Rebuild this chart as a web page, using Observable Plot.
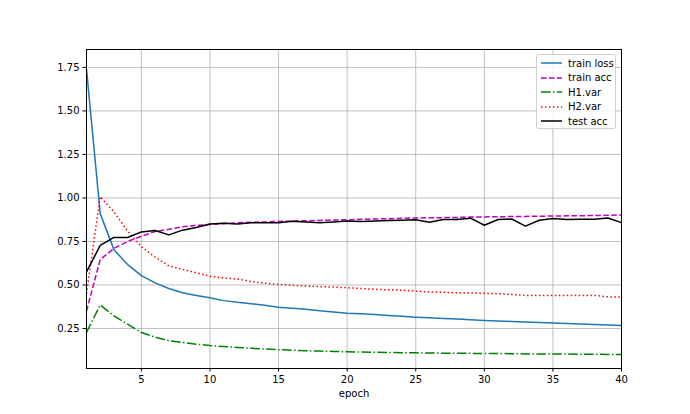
<!DOCTYPE html>
<html>
<head>
<meta charset="utf-8">
<script src="https://cdn.jsdelivr.net/npm/d3@7"></script>
<script src="https://cdn.jsdelivr.net/npm/@observablehq/plot@0.6"></script>
<style>
  html, body { margin: 0; padding: 0; background: #fff; }
  #wrap { position: relative; width: 690px; height: 414px; font-family: "DejaVu Sans", sans-serif; }
  #legend { position: absolute; left: 536px; top: 54px; width: 80px; height: 75px; box-sizing: border-box;
    border: 1px solid #d0d0d0; border-radius: 3px; background: rgba(255,255,255,0.8); font-size: 10px; color: #000; }
  .row { position: absolute; left: 0; height: 15px; display: flex; align-items: center; }
  .row svg { margin-left: 4px; }
  .row span { margin-left: 6px; white-space: nowrap; }
</style>
</head>
<body>
<div id="wrap"></div>
<script>
const epochs = [1,2,3,4,5,6,7,8,9,10,11,12,13,14,15,16,17,18,19,20,21,22,23,24,25,26,27,28,29,30,31,32,33,34,35,36,37,38,39,40];
const trainLoss = [1.74,0.91,0.703,0.617,0.554,0.512,0.48,0.455,0.44,0.426,0.41,0.40,0.392,0.383,0.372,0.366,0.36,0.352,0.345,0.338,0.334,0.33,0.325,0.32,0.315,0.311,0.308,0.304,0.30,0.296,0.293,0.29,0.287,0.284,0.281,0.278,0.275,0.273,0.27,0.267];
const trainAcc = [0.35,0.646,0.71,0.75,0.78,0.807,0.82,0.835,0.842,0.848,0.853,0.857,0.86,0.862,0.865,0.867,0.869,0.871,0.873,0.875,0.877,0.879,0.881,0.883,0.885,0.886,0.887,0.888,0.89,0.891,0.892,0.893,0.894,0.895,0.896,0.897,0.898,0.899,0.90,0.902];
const h1Var = [0.227,0.385,0.322,0.275,0.227,0.20,0.18,0.17,0.16,0.152,0.146,0.141,0.136,0.132,0.128,0.125,0.122,0.12,0.118,0.116,0.115,0.113,0.112,0.111,0.11,0.109,0.108,0.107,0.107,0.106,0.106,0.105,0.104,0.104,0.103,0.103,0.102,0.102,0.101,0.101];
const h2Var = [0.45,1.007,0.92,0.81,0.72,0.66,0.61,0.59,0.57,0.55,0.54,0.535,0.52,0.51,0.503,0.498,0.494,0.49,0.488,0.484,0.48,0.475,0.472,0.47,0.465,0.46,0.458,0.455,0.454,0.452,0.45,0.445,0.44,0.44,0.44,0.44,0.44,0.44,0.432,0.43];
const testAcc = [0.575,0.727,0.773,0.773,0.805,0.813,0.788,0.815,0.83,0.85,0.855,0.85,0.858,0.857,0.858,0.866,0.862,0.858,0.862,0.867,0.865,0.868,0.87,0.872,0.875,0.861,0.876,0.876,0.884,0.843,0.876,0.879,0.838,0.872,0.882,0.876,0.877,0.877,0.885,0.858];

const xTicks = [5,10,15,20,25,30,35,40];
const yTicks = [0.25,0.50,0.75,1.00,1.25,1.50,1.75];

const seriesDefs = [
  {name: "train loss", values: trainLoss, color: "#1f77b4", dash: null},
  {name: "train acc", values: trainAcc, color: "#bf00bf", dash: "5.55,2.4"},
  {name: "H1.var", values: h1Var, color: "#008000", dash: "9.6,2.4,1.5,2.4"},
  {name: "H2.var", values: h2Var, color: "#ff0000", dash: "1.5,2.475"},
  {name: "test acc", values: testAcc, color: "#000000", dash: null}
];

const lineMarks = seriesDefs.map(s => Plot.line(
  epochs.map((e, i) => ({epoch: e, value: s.values[i]})),
  {x: "epoch", y: "value", stroke: s.color, strokeWidth: 1.5, strokeDasharray: s.dash, strokeLinecap: "butt", strokeLinejoin: "round"}
));

const chart = Plot.plot({
  width: 690, height: 414,
  marginLeft: 86, marginRight: 69, marginTop: 49, marginBottom: 46,
  style: {fontFamily: "DejaVu Sans, sans-serif", fontSize: "10px", color: "#000", background: "#fff"},
  x: {domain: [1, 40]},
  y: {domain: [0.02, 1.853]},
  marks: [
    Plot.gridX(xTicks, {stroke: "#b0b0b0", strokeOpacity: 1, strokeWidth: 0.8}),
    Plot.gridY(yTicks, {stroke: "#b0b0b0", strokeOpacity: 1, strokeWidth: 0.8}),
    ...lineMarks,
    Plot.frame({stroke: "#000", strokeWidth: 1}),
    Plot.axisX(xTicks, {tickSize: 3.5, tickPadding: 3.5, label: "epoch", labelAnchor: "center", labelArrow: "none", labelOffset: 28, fontSize: 10}),
    Plot.axisY(yTicks, {tickSize: 3.5, tickPadding: 3.5, tickFormat: d => d.toFixed(2), label: null, fontSize: 10})
  ]
});
const wrap = document.getElementById("wrap");
wrap.appendChild(chart);

const legend = document.createElement("div");
legend.id = "legend";
seriesDefs.forEach((s, i) => {
  const row = document.createElement("div");
  row.className = "row";
  row.style.top = (0.5 + i * 14.6) + "px";
  row.innerHTML = `<svg width="21" height="6"><line x1="0" y1="3" x2="21" y2="3" stroke="${s.color}" stroke-width="1.5" ${s.dash ? `stroke-dasharray="${s.dash}"` : ""}/></svg><span>${s.name}</span>`;
  legend.appendChild(row);
});
wrap.appendChild(legend);
</script>
</body>
</html>
